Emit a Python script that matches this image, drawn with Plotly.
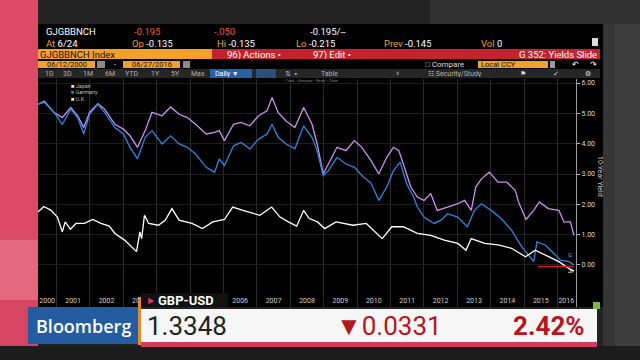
import plotly.graph_objects as go

# ---------------- data (10-year government bond yields, %) ----------------
japan_dates = ["2000-06-12", "2000-08-15", "2000-11-01", "2001-01-10", "2001-03-05", "2001-04-05",
               "2001-06-01", "2001-08-01", "2001-11-01", "2002-02-01", "2002-05-01", "2002-08-01",
               "2002-10-01", "2003-01-15", "2003-05-25", "2003-07-01", "2003-07-20", "2003-08-20",
               "2003-10-05", "2004-01-20", "2004-04-05", "2004-06-15", "2004-09-01", "2005-01-20",
               "2005-05-15", "2005-09-05", "2006-01-10", "2006-04-10", "2006-08-01", "2006-11-20",
               "2007-02-01", "2007-06-10", "2007-09-10", "2007-12-10", "2008-03-10", "2008-05-25",
               "2008-07-25", "2008-10-25", "2009-01-10", "2009-05-15", "2009-11-15", "2010-04-10",
               "2010-10-01", "2011-01-15", "2011-05-20", "2011-10-20", "2012-03-15", "2012-08-10",
               "2013-01-05", "2013-04-05", "2013-06-01", "2013-10-25", "2014-03-20", "2014-08-15",
               "2015-01-15", "2015-05-01", "2015-08-20", "2016-01-15", "2016-05-01", "2016-06-27"]
japan_yield = [1.75, 1.93, 1.80, 1.58, 1.09, 1.42, 1.18, 1.37, 1.37, 1.50, 1.37, 1.28,
               1.04, 0.82, 0.44, 1.09, 0.87, 1.64, 1.37, 1.31, 1.48, 1.86, 1.48, 1.37,
               1.20, 1.42, 1.50, 1.91, 1.80, 1.69, 1.64, 1.91, 1.58, 1.42, 1.28, 1.80,
               1.53, 1.42, 1.20, 1.42, 1.31, 1.37, 0.87, 1.26, 1.26, 1.04, 0.98, 0.82,
               0.71, 0.49, 0.87, 0.71, 0.66, 0.55, 0.27, 0.49, 0.33, 0.11, -0.11, -0.20]

germany_dates = ["2000-06-12", "2000-08-20", "2000-12-05", "2001-03-05", "2001-06-05", "2001-08-20",
                 "2001-10-25", "2001-12-28", "2002-03-28", "2002-06-10", "2002-10-01", "2003-01-01",
                 "2003-03-15", "2003-06-05", "2003-08-28", "2003-11-10", "2004-02-28", "2004-06-01",
                 "2004-09-01", "2004-12-01", "2005-03-01", "2005-06-25", "2005-09-25", "2005-11-15",
                 "2006-01-10", "2006-04-20", "2006-07-10", "2006-10-15", "2007-01-20", "2007-04-20",
                 "2007-06-15", "2007-08-20", "2007-11-15", "2008-02-20", "2008-05-25", "2008-08-25",
                 "2008-10-20", "2008-12-25", "2009-02-20", "2009-05-25", "2009-08-30", "2009-12-01",
                 "2010-03-10", "2010-06-01", "2010-08-25", "2010-11-20", "2011-02-01", "2011-04-15",
                 "2011-06-25", "2011-09-10", "2011-10-20", "2012-01-01", "2012-04-20", "2012-07-05",
                 "2012-09-15", "2013-01-05", "2013-04-20", "2013-07-05", "2013-09-20", "2014-01-05",
                 "2014-04-25", "2014-08-15", "2014-12-05", "2015-04-15", "2015-05-20", "2015-08-20",
                 "2015-11-20", "2016-02-01", "2016-05-05", "2016-06-27"]
germany_yield = [5.30, 5.36, 5.03, 4.64, 5.14, 4.86, 4.32, 4.97, 5.30, 5.03, 4.53, 4.32,
                 3.88, 3.50, 4.21, 4.43, 3.99, 4.26, 3.99, 3.88, 3.66, 3.22, 3.06, 3.50,
                 3.28, 3.93, 4.04, 3.83, 4.15, 4.32, 4.64, 4.21, 3.99, 3.83, 4.59, 4.21,
                 3.77, 2.95, 3.11, 3.55, 3.33, 3.22, 2.90, 2.70, 2.13, 2.57, 3.11, 3.39,
                 2.68, 2.24, 1.91, 1.58, 1.37, 1.48, 1.69, 1.58, 1.26, 1.80, 2.02, 1.80,
                 1.53, 1.15, 0.60, 0.11, 0.76, 0.66, 0.38, 0.16, 0.11, 0.00]

uk_dates = ["2000-06-12", "2000-08-20", "2000-12-05", "2001-03-05", "2001-06-05", "2001-08-20",
            "2001-10-25", "2001-12-28", "2002-03-28", "2002-06-10", "2002-10-01", "2003-01-01",
            "2003-03-15", "2003-06-05", "2003-08-28", "2003-11-10", "2004-02-28", "2004-06-01",
            "2004-09-01", "2004-12-01", "2005-03-01", "2005-06-25", "2005-09-25", "2005-11-15",
            "2006-01-10", "2006-04-20", "2006-07-10", "2006-10-15", "2007-01-20", "2007-04-20",
            "2007-06-15", "2007-08-20", "2007-11-15", "2008-02-20", "2008-05-25", "2008-08-25",
            "2008-10-20", "2008-12-25", "2009-02-20", "2009-05-25", "2009-08-30", "2009-12-01",
            "2010-02-20", "2010-06-01", "2010-08-25", "2010-11-20", "2011-02-01", "2011-04-01",
            "2011-05-20", "2011-08-10", "2011-10-20", "2012-01-01", "2012-03-15", "2012-05-25",
            "2012-09-15", "2013-01-05", "2013-03-20", "2013-06-01", "2013-07-20", "2013-09-20",
            "2013-12-15", "2014-03-20", "2014-06-25", "2014-09-25", "2014-10-30", "2015-01-20",
            "2015-04-15", "2015-06-15", "2015-09-20", "2016-01-15", "2016-03-10", "2016-05-20",
            "2016-06-27"]
uk_yield = [5.30, 5.40, 5.03, 4.86, 5.19, 4.92, 4.53, 5.03, 5.32, 5.14, 4.64, 4.48,
            4.26, 3.88, 4.43, 5.03, 4.92, 5.21, 4.97, 4.86, 4.64, 4.32, 4.37, 4.43,
            4.10, 4.64, 4.70, 4.59, 4.92, 5.08, 5.52, 5.03, 4.75, 4.53, 5.19, 4.64,
            3.99, 3.01, 3.33, 3.88, 3.77, 4.10, 3.88, 3.44, 3.00, 3.55, 3.88, 3.77,
            3.33, 2.57, 2.24, 2.13, 2.35, 1.80, 1.91, 2.02, 2.13, 1.80, 2.57, 2.84,
            3.06, 2.73, 2.73, 2.46, 2.08, 1.50, 1.80, 2.08, 1.86, 1.80, 1.42, 1.42,
            0.98]

series_names = ["Japan", "Germany", "U.K."]
year_grid = [f"{y}-01-01" for y in range(2001, 2017)]
year_tick_vals = ["2000-09-20", "2001-07-01", "2002-07-01", "2003-07-01"] + \
                 [f"{y}-07-01" for y in range(2006, 2016)] + ["2016-04-05"]
year_tick_text = ["2000", "2001", "2002", "2003"] + [str(y) for y in range(2006, 2016)] + ["2016"]
y_ticks = [0, 1, 2, 3, 4, 5, 6]
last_price_start = "2015-06-01"
last_price_end = "2016-06-27"
last_price = -0.05

# ---------------- styling ----------------
COL_JP = "#ffffff"
COL_DE = "#2c86e0"
COL_UK = "#cc8ff2"
FONT = "Roboto"

W, H = 640, 360
def px(x): return x / W
def py(y): return 1 - y / H

fig = go.Figure()
for name, xs, ys, col in [(series_names[2], uk_dates, uk_yield, COL_UK),
                          (series_names[1], germany_dates, germany_yield, COL_DE),
                          (series_names[0], japan_dates, japan_yield, COL_JP)]:
    fig.add_trace(go.Scatter(x=xs, y=ys, mode="lines", name=name,
                             line=dict(color=col, width=1.3), showlegend=False))

fig.add_trace(go.Scatter(x=[last_price_start, last_price_end], y=[last_price, last_price],
                         mode="lines", line=dict(color="#d42020", width=1.3),
                         showlegend=False, hoverinfo="skip"))

shapes = []
def rect(x0, y0, x1, y1, color, layer="above"):
    shapes.append(dict(type="rect", xref="paper", yref="paper", x0=px(x0), x1=px(x1),
                       y0=py(y1), y1=py(y0), fillcolor=color, line=dict(width=0), layer=layer))

ann = []
def text(x, y, s, size=10, color="#ffffff", anchor="left", family=FONT, weight=None, angle=0, h=None):
    f = dict(size=size, color=color, family=family)
    if weight:
        f["weight"] = weight
    a = dict(x=px(x), y=py(y), xref="paper", yref="paper", text=s, showarrow=False,
             xanchor=anchor, yanchor="middle", font=f, textangle=angle, borderpad=0)
    if h is None:
        h = max(4, round(size * 1.05))
    if angle == 0:
        a["height"] = h
    ann.append(a)

# background panels
rect(0, 0, 640, 24, "#242424", "below")
rect(430, 0, 640, 24, "#303030", "below")
rect(0, 0, 38, 240, "#dc4a66", "below")
rect(0, 240, 38, 300, "#e4687f", "below")
rect(0, 300, 38, 350, "#d64662", "below")
rect(38, 24, 603, 307, "#000000", "below")
rect(603, 24, 640, 360, "#353535", "below")
rect(615, 24, 640, 360, "#3e3e3e", "below")
rect(0, 346, 640, 360, "#1c1c1c", "below")

# header rows
R1, R2, R3 = 31, 42.5, 54
text(45, R1, "GJGBBNCH", 9.5, h=10)
text(133, R1, "-0.195", 9.5, "#ee5a3c", h=10)
text(213, R1, "-.050", 9.5, "#ee5a3c", h=10)
text(309, R1, "-0.195/--", 9.5, h=10)
text(45, R2, "<span style='color:#f0a030'>At</span> 6/24", 9.5, h=10)
text(131, R2, "<span style='color:#f0a030'>Op</span> -0.135", 9.5, h=10)
text(216, R2, "<span style='color:#f0a030'>Hi</span> -0.135", 9.5, h=10)
text(295, R2, "<span style='color:#f0a030'>Lo</span> -0.215", 9.5, h=10)
text(383, R2, "<span style='color:#f0a030'>Prev</span> -0.145", 9.5, h=10)
text(480, R2, "<span style='color:#f0a030'>Vol</span> 0", 9.5, h=10)
rect(592, 38, 598, 46, "#dddddd")

rect(38, 49, 212, 59, "#f2a22a")
rect(212, 49, 600, 59, "#c4222c")
text(39, R3, "GJGBBNCH Index", 9.5, "#1a1000", h=9)
text(226, R3, "96) Actions \u2022", 9.5, h=9)
text(312, R3, "97) Edit \u2022", 9.5, h=9)
text(598, R3, "G 352: Yields Slide", 9.5, anchor="right", h=9)

R4 = 64.8
rect(38, 61, 95, 68, "#f2a22a")
rect(97, 61, 105, 68, "#8a8a8a")
text(113, R4, "-", 7.5, "#dddddd", h=7)
rect(123, 61, 180, 68, "#f2a22a")
rect(183, 61, 190, 68, "#8a8a8a")
text(66.5, R4, "06/12/2000", 7.5, "#1a1000", anchor="center", h=7)
text(151.5, R4, "06/27/2016", 7.5, "#1a1000", anchor="center", h=7)
text(424, R4, "\u25a1 Compare", 8, "#dddddd", h=7)
rect(478, 61, 548, 68, "#f2a22a")
text(480, R4, "Local CCY", 7.5, "#1a1000", h=7)
rect(550, 61, 555, 68, "#9a9a9a")
text(575, R4, "\u21b6", 8, "#ffffff", anchor="center", h=7)
text(593, R4, "\u21b7", 8, "#ffffff", anchor="center", h=7)

R5 = 74
rect(38, 69, 600, 78, "#262626")
for lbl, xx in [("1D", 44), ("3D", 62), ("1M", 82), ("6M", 104), ("YTD", 124), ("1Y", 150),
                ("5Y", 170), ("Max", 190)]:
    text(xx, R5, lbl, 7, "#b0b0b0", h=7)
rect(210, 69, 252, 78, "#2462a8")
text(214, R5, "Daily \u25bc", 7, "#ffffff", h=7)
rect(256, 69, 276, 78, "#2a4f7a")
text(284, R5, "\u21c5  \u25aa", 7, "#bbbbbb", h=7)
text(320, R5, "Table", 7, "#b0b0b0", h=7)
text(395, R5, "\u00ab", 7, "#b0b0b0", h=7)
text(427, R5, "\u2637 Security/Study", 7, "#b0b0b0", h=7)
text(523, R5, "\u2691", 7, "#dddddd", anchor="center", h=7)
text(556, R5, "\u2713", 7, "#dddddd", anchor="center", h=7)
text(588, R5, "\u2699", 7, "#dddddd", anchor="center", h=7)
text(283, 81.5, "\u2022 Track  \u2022 Annotate  \u2022 News  \u2022 Zoom", 3.5, "#888888", h=4)

# legend (annotations)
for i, (nm, col) in enumerate(zip(series_names, [COL_JP, COL_DE, "#ffffff"])):
    text(70, 86 + i * 6.5, f"<span style='color:{col}'>\u25a0</span> {nm}", 5.5, "#bbbbbb", h=6)

# axis title and end tags
text(600, 176, "10-Year Yield", 7, "#cccccc", anchor="center", angle=90)
text(567, 254, "G", 6, "#5aa0ff", h=6)
text(567, 270, "JI", 6, "#ffffff", h=6)

# bottom ticker
rect(141, 293, 228, 307, "#111111")
text(147, 300, "\u25b6", 8, "#e8306a", h=12)
text(157, 300, "GBP-USD", 13, "#ffffff", weight="bold", h=13)
rect(28, 307, 138, 344, "#235ca0")
text(83, 326, "Bloomberg", 18, "#ffffff", anchor="center", family="Open Sans", weight=600, h=24)
rect(138, 297, 141, 345, "#e38a2c")
rect(141, 309, 597, 342, "#f6f6f6")
rect(141, 342, 597, 347, "#d23c5c")
rect(593, 302, 600, 309, "#7ab842")
text(146, 326, "1.3348", 26, "#222222", h=30)
text(335, 326, "\u25bc0.0331", 26, "#b3161e", h=30)
text(586, 326, "2.42%", 26, "#b3161e", anchor="right", weight="bold", h=30)

fig.update_layout(
    width=W, height=H,
    margin=dict(l=0, r=0, t=0, b=0),
    paper_bgcolor="#222222",
    plot_bgcolor="rgba(0,0,0,0)",
    showlegend=False,
    shapes=shapes,
    annotations=ann,
    xaxis=dict(domain=[px(38), px(576)], type="date",
               range=["2000-06-12", "2016-07-20"],
               tickmode="array", tickvals=year_tick_vals, ticktext=year_tick_text,
               ticklabelposition="inside", ticks="", showgrid=False, zeroline=False,
               showline=False, tickfont=dict(size=7, color="#cfcfcf", family=FONT),
               minor=dict(tickmode="array", tickvals=year_grid, showgrid=True,
                          gridcolor="#2c2c2c", gridwidth=1, ticks="")),
    yaxis=dict(domain=[py(307), py(79)], range=[-1.385, 6.132], side="right",
               tickmode="array", tickvals=y_ticks, tickformat=".2f",
               ticks="outside", ticklen=3, tickcolor="#bbbbbb",
               showline=True, linecolor="#9a9a9a", linewidth=1,
               showgrid=True, gridcolor="#1e1e1e", zeroline=False,
               tickfont=dict(size=7, color="#dddddd", family=FONT)),
)

fig.write_html("out.html", config={"displayModeBar": False},
               post_script="document.body.style.margin='0';document.body.style.overflow='hidden';")
